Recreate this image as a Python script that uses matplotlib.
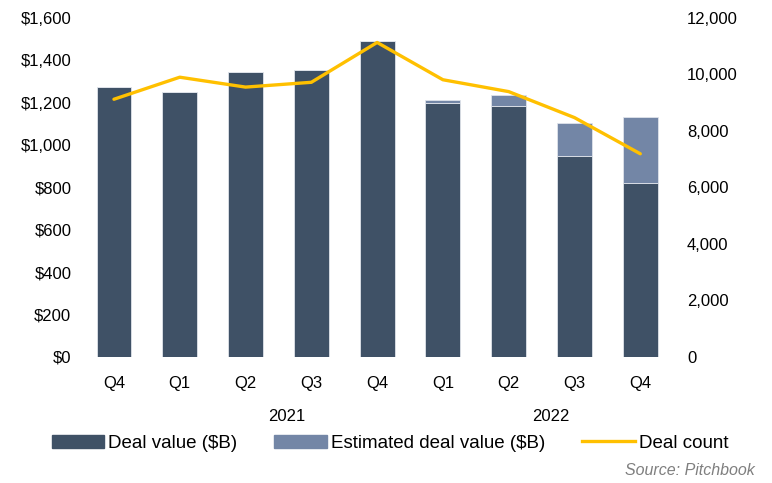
import matplotlib
matplotlib.use("Agg")
from matplotlib import pyplot as plt
from matplotlib.patches import Patch
from matplotlib.lines import Line2D
from matplotlib.ticker import FuncFormatter

quarters = ["Q4", "Q1", "Q2", "Q3", "Q4", "Q1", "Q2", "Q3", "Q4"]
years = ["2021", "2022"]
deal_value = [1275, 1250, 1345, 1355, 1490, 1200, 1186, 947, 821]
estimated_value = [0, 0, 0, 0, 0, 13, 50, 159, 313]
deal_count = [9120, 9900, 9550, 9720, 11130, 9810, 9390, 8470, 7190]

dark = "#3f5166"
light = "#7386a6"
gold = "#ffc000"

plt.rcParams["font.family"] = ["Liberation Sans", "DejaVu Sans"]

fig = plt.figure(figsize=(7.72, 4.83), dpi=100)
ax = fig.add_axes([0.105, 0.261, 0.767, 0.702])
ax2 = ax.twinx()

x = list(range(len(quarters)))
ax.bar(x, deal_value, width=0.53, color=dark, edgecolor="#dfe3ea", linewidth=0.6)
ax.bar(x, estimated_value, width=0.53, bottom=deal_value, color=light,
       edgecolor="#dfe3ea", linewidth=0.6)
ax2.plot(x, deal_count, color=gold, linewidth=2.4, solid_capstyle="round")

ax.set_xlim(-0.5, len(quarters) - 0.5)
ax.set_ylim(0, 1600)
ax.set_yticks(range(0, 1601, 200))
ax.yaxis.set_major_formatter(FuncFormatter(lambda v, p: "${:,.0f}".format(v)))
ax2.set_ylim(0, 12000)
ax2.set_yticks(range(0, 12001, 2000))
ax2.yaxis.set_major_formatter(FuncFormatter(lambda v, p: "{:,.0f}".format(v)))

ax.set_xticks(x)
ax.set_xticklabels(quarters)
for a in (ax, ax2):
    for s in a.spines.values():
        s.set_visible(False)
    a.tick_params(length=0, labelsize=12, colors="#000000")
ax.tick_params(axis="x", pad=14)
ax.tick_params(axis="y", pad=7)
ax2.tick_params(axis="y", pad=10)

for yr, xpos in zip(years, [2.63, 6.64]):
    ax.text(xpos, -0.175, yr, transform=ax.get_xaxis_transform(), ha="center",
            va="center", fontsize=12)

handles = [Patch(color=dark), Patch(color=light), Line2D([0], [0], color=gold, linewidth=2.4)]
labels = ["Deal value ($B)", "Estimated deal value ($B)", "Deal count"]
fig.legend(handles, labels, loc="center", bbox_to_anchor=(0.505, 0.082), ncol=3,
           frameon=False, fontsize=13.5, handlelength=2.8, handleheight=0.75,
           handletextpad=0.2, columnspacing=2.0)

fig.text(0.978, 0.025, "Source: Pitchbook", ha="right", va="center",
         fontsize=11.5, style="italic", color="#7f7f7f")

fig.savefig("out.png", dpi=100)
